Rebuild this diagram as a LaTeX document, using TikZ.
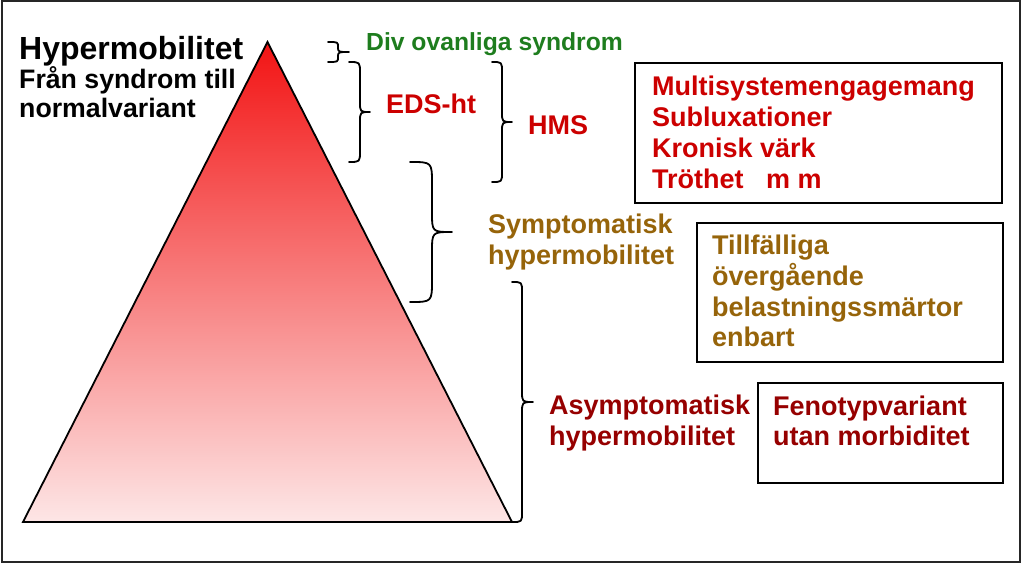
\documentclass[tikz,border=0pt]{standalone}
\usepackage{fontspec}
\setmainfont{Liberation Sans}
\definecolor{cred}{RGB}{204,0,0}
\definecolor{cdark}{RGB}{150,0,0}
\definecolor{cgold}{RGB}{150,100,10}
\definecolor{cgreen}{RGB}{30,125,30}
\definecolor{ctop}{RGB}{242,20,20}
\definecolor{cmid}{RGB}{246,145,145}
\definecolor{cbot}{RGB}{253,230,230}
\newcommand\mltxt[1]{\begin{tabular}[t]{@{}l@{}}#1\end{tabular}}
\newcommand\rbr[5]{% xl, xv, xt, yt, yb
  \pgfmathsetmacro\ym{(#4+#5)/2}%
  \pgfmathsetmacro\ra{min(#2-#1,(#5-#4)/4)}%
  \pgfmathsetmacro\rb{min(#3-#2,(#5-#4)/4)}%
  \draw[bracestroke] (#1,#4) .. controls (#2,#4) .. (#2,#4+\ra) -- (#2,\ym-\rb)
    .. controls (#2,\ym) .. (#3,\ym) .. controls (#2,\ym) .. (#2,\ym+\rb)
    -- (#2,#5-\ra) .. controls (#2,#5) .. (#1,#5);}
\begin{document}
\begin{tikzpicture}[x=1pt,y=-1pt,
  lbl/.style={inner sep=0pt, anchor=base west, font=\fontsize{27}{30.7}\selectfont\bfseries},
  infobox/.style={draw=black, line width=2pt, inner sep=0pt, anchor=north west},
  bracestroke/.style={draw=black, line width=1.8pt, line cap=round, line join=round}]
\useasboundingbox (0,0) rectangle (1024,564);
% frame
\draw[line width=2pt, black!85] (2,1) rectangle (1020,562);
\draw[line width=1.5pt, black!85] (1020.5,1) -- (1020.5,562.5) -- (2,562.5);
% triangle
\coordinate (apex) at (267.5,42);
\coordinate (bl) at (23,522);
\coordinate (br) at (512,522);
\shade[top color=ctop, middle color=cmid, bottom color=cbot] (apex) -- (bl) -- (br) -- cycle;
\draw[line width=1.8pt, line join=miter] (apex) -- (bl) -- (br) -- cycle;
% title
\node[lbl, font=\fontsize{32}{32}\selectfont\bfseries] (title) at (19,60) {Hypermobilitet};
\node[lbl, font=\fontsize{26.7}{28.5}\selectfont\bfseries] (sub) at (19,89) {\mltxt{Från syndrom till\\normalvariant}};
% braces
\rbr{328}{338}{349}{42}{62}
\rbr{349}{360}{370}{62}{162}
\rbr{492}{502}{512}{62}{182}
\rbr{410}{432}{452}{162}{302}
\rbr{512}{522}{533}{282}{522}
% labels
\begin{scope}
\clip (300,20) rectangle (640,55.5);
\node[lbl, text=cgreen, font=\fontsize{24.7}{26}\selectfont\bfseries] (div) at (366,51) {Div ovanliga syndrom};
\end{scope}
\node[lbl, text=cred] (eds) at (386,114) {EDS-ht};
\node[lbl, text=cred] (hms) at (528,135) {HMS};
\node[lbl, text=cgold, font=\fontsize{27}{31.5}\selectfont\bfseries] (symp) at (488,233) {\mltxt{Symptomatisk\\hypermobilitet}};
\node[lbl, text=cdark, font=\fontsize{27}{31}\selectfont\bfseries] (asym) at (549,414) {\mltxt{Asymptomatisk\\hypermobilitet}};
% boxes
\node[infobox, minimum width=367pt, minimum height=140pt] (box1) at (634,62) {};
\node[infobox, minimum width=306pt, minimum height=139pt] (box2) at (696,222) {};
\node[infobox, minimum width=245pt, minimum height=100pt] (box3) at (757,382) {};
\node[lbl, text=cred] (t1) at (652,96) {\mltxt{Multisystemengagemang\\Subluxationer\\Kronisk värk\\Tröthet\ \ \ m m}};
\node[lbl, text=cgold] (t2) at (712,254) {\mltxt{Tillfälliga\\övergående\\belastningssmärtor\\enbart}};
\node[lbl, text=cdark] (t3) at (773,415) {\mltxt{Fenotypvariant\\utan morbiditet}};
\end{tikzpicture}
\end{document}
